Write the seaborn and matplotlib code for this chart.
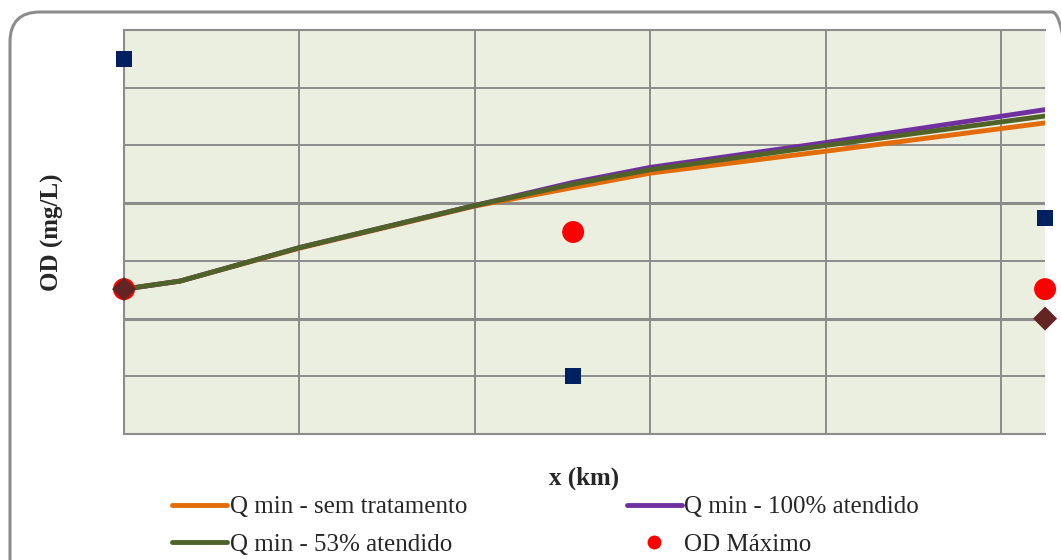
import matplotlib
matplotlib.use("Agg")
import matplotlib.pyplot as plt
from matplotlib.patches import FancyBboxPatch
from matplotlib.transforms import IdentityTransform
from matplotlib.lines import Line2D
import seaborn as sns
import pandas as pd

# dados (x em km, OD em mg/L, escala sem rotulos)
x_km = [0.0, 0.32, 1.0, 2.0, 2.56, 3.0, 4.0, 5.25]
od_sem_trat = [2.51, 2.65, 3.22, 3.95, 4.27, 4.52, 4.90, 5.39]
od_100 = [2.51, 2.65, 3.23, 3.96, 4.36, 4.62, 5.05, 5.62]
od_53 = [2.51, 2.65, 3.23, 3.96, 4.33, 4.58, 5.00, 5.51]

x_pontos = [0.0, 2.56, 5.25]
od_maximo = [2.51, 3.50, 2.51]
od_quadrado = [6.50, 1.00, 3.74]
x_losango = [0.0, 5.25]
od_losango = [2.51, 2.00]

sns.set_style("white")
plt.rcParams['font.family'] = ['Liberation Serif', 'DejaVu Serif']

fig = plt.figure(figsize=(10.61, 5.6), dpi=100)
ax = fig.add_axes([0.1169, 0.225, 0.985 - 0.1169, 0.9464 - 0.225])
ax.set_facecolor('#EBEFDF')

# moldura arredondada (em pixels)
borda = FancyBboxPatch((10, -60), 1072, 608, boxstyle="round,pad=0,rounding_size=30",
                       transform=IdentityTransform(), fc='none', ec='#8C8C8C', lw=2.2,
                       clip_on=False)
fig.patches.append(borda)

df = pd.DataFrame({'x': x_km, 'orange': od_sem_trat, 'purple': od_100, 'green': od_53})
sns.lineplot(data=df, x='x', y='orange', color='#E36C0A', lw=3.5, ax=ax, zorder=3)
sns.lineplot(data=df, x='x', y='purple', color='#7030A0', lw=3.5, ax=ax, zorder=3)
sns.lineplot(data=df, x='x', y='green', color='#4F6228', lw=3.5, ax=ax, zorder=4)

sns.scatterplot(x=x_pontos, y=od_quadrado, marker='s', s=135, color='#002060',
                edgecolor='none', ax=ax, zorder=5, clip_on=False)
sns.scatterplot(x=x_pontos, y=od_maximo, marker='o', s=250, color='#FF0000',
                edgecolor='none', ax=ax, zorder=5, clip_on=False)
sns.scatterplot(x=x_losango, y=od_losango, marker='D', s=150, color='#632523',
                edgecolor='none', ax=ax, zorder=6, clip_on=False)

ax.set_xlim(0, 5.25)
ax.set_ylim(0, 7)
ax.set_xticks([0, 1, 2, 3, 4, 5])
ax.set_yticks(range(8))
ax.set_xticklabels([])
ax.set_yticklabels([])
ax.tick_params(length=0)
ax.grid(True, color='#8C8C8C', lw=1.4)
for g in [ax.get_ygridlines()[2], ax.get_ygridlines()[4]]:
    g.set_linewidth(2.2)
ax.set_axisbelow(True)
for s in ['left', 'bottom', 'top']:
    ax.spines[s].set_color('#8C8C8C')
    ax.spines[s].set_linewidth(1.5)
ax.spines['right'].set_visible(False)

ax.set_xlabel('x (km)', fontsize=18, fontweight='bold', labelpad=20)
ax.set_ylabel('OD (mg/L)', fontsize=18, fontweight='bold', labelpad=40)

handles = [Line2D([], [], color='#E36C0A', lw=3.5),
           Line2D([], [], color='#4F6228', lw=3.5),
           Line2D([], [], color='#7030A0', lw=3.5),
           Line2D([], [], color='#FF0000', marker='o', ls='none', ms=9)]
labels = ['Q min - sem tratamento', 'Q min - 53% atendido',
          'Q min - 100% atendido', 'OD Máximo']
fig.legend(handles, labels, ncol=2, loc='lower left', bbox_to_anchor=(0.141, -0.033),
           frameon=False, fontsize=18, handlelength=2.2, handletextpad=0.1,
           columnspacing=6.4, labelspacing=0.6)

fig.savefig('out.png', dpi=100)
